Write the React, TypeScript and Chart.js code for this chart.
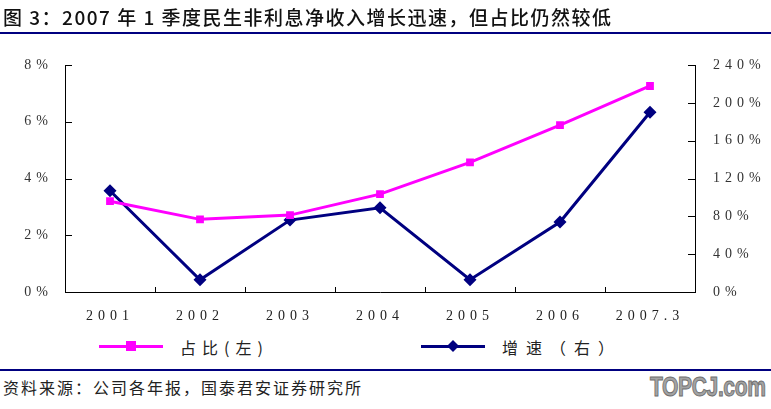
import React, { useEffect, useRef } from "react";
import { Chart, registerables } from "chart.js";
Chart.register(...registerables);

const categories = ["2001", "2002", "2003", "2004", "2005", "2006", "2007.3"];
const shareValues = [3.2, 2.56, 2.71, 3.45, 4.57, 5.88, 7.26];
const growthValues = [107, 13, 76, 89, 13, 74, 190];
const leftTicks = [0, 2, 4, 6, 8];
const rightTicks = [0, 40, 80, 120, 160, 200, 240];

const shareLabel = "占比(左)";
const growthLabel = "增速（右）";
const title = "图 3：2007 年 1 季度民生非利息净收入增长迅速，但占比仍然较低";
const source = "资料来源：公司各年报，国泰君安证券研究所";

const MAGENTA = "#FF00FF";
const NAVY = "#000080";
const SERIF = "'Liberation Serif', 'DejaVu Serif', serif";
const CJK = "'Noto Sans CJK SC', sans-serif";

const inwardTicks = {
  id: "inwardTicks",
  beforeDraw(chart: any) {
    chart.ctx.letterSpacing = "5px";
  },
  afterDraw(chart: any) {
    const ctx = chart.ctx;
    const { left, right, bottom } = chart.chartArea;
    ctx.save();
    ctx.letterSpacing = "0px";
    ctx.strokeStyle = "#000";
    ctx.lineWidth = 1;
    ctx.beginPath();
    const yl = chart.scales.y;
    yl.ticks.forEach((t: any) => {
      const y = Math.round(yl.getPixelForValue(t.value)) + 0.5;
      ctx.moveTo(left, y);
      ctx.lineTo(left + 7, y);
    });
    const yr = chart.scales.y1;
    yr.ticks.forEach((t: any) => {
      const y = Math.round(yr.getPixelForValue(t.value)) + 0.5;
      ctx.moveTo(right - 7, y);
      ctx.lineTo(right, y);
    });
    const xs = chart.scales.x;
    for (let i = 0; i < categories.length - 1; i++) {
      const x = Math.round((xs.getPixelForTick(i) + xs.getPixelForTick(i + 1)) / 2) + 0.5;
      ctx.moveTo(x, bottom);
      ctx.lineTo(x, bottom - 5);
    }
    ctx.stroke();
    ctx.restore();
    ctx.letterSpacing = "0px";
  },
};

export default function App() {
  const ref = useRef<HTMLCanvasElement>(null);
  useEffect(() => {
    if (!ref.current) return;
    const chart = new Chart(ref.current, {
      type: "line",
      data: {
        labels: categories,
        datasets: [
          {
            label: shareLabel,
            data: shareValues,
            yAxisID: "y",
            borderColor: MAGENTA,
            backgroundColor: MAGENTA,
            borderWidth: 3,
            pointStyle: "rect",
            pointRadius: 5.5,
            pointBorderWidth: 0,
            tension: 0,
          },
          {
            label: growthLabel,
            data: growthValues,
            yAxisID: "y1",
            borderColor: NAVY,
            backgroundColor: NAVY,
            borderWidth: 3,
            pointStyle: "rectRot",
            pointRadius: 6.5,
            pointBorderWidth: 0,
            tension: 0,
          },
        ],
      },
      options: {
        animation: false,
        responsive: false,
        layout: { padding: { top: 65, left: 0, right: 0, bottom: 0 } },
        plugins: { legend: { display: false }, tooltip: { enabled: false } },
        scales: {
          x: {
            offset: true,
            grid: { display: false, drawTicks: false },
            border: { display: true, color: "#000", width: 1 },
            ticks: {
              padding: 16,
              color: "#222",
              font: { family: SERIF, size: 14 },
              maxRotation: 0,
              autoSkip: false,
            },
            afterFit(s: any) {
              s.height = 38;
            },
          },
          y: {
            position: "left",
            min: 0,
            max: 8,
            afterBuildTicks(s: any) {
              s.ticks = leftTicks.map((v) => ({ value: v }));
            },
            grid: { display: false, drawTicks: false },
            border: { display: true, color: "#000", width: 1 },
            ticks: {
              padding: 12,
              color: "#333",
              font: { family: SERIF, size: 14 },
              callback: (v: any) => v + "%",
            },
            afterFit(s: any) {
              s.width = 65;
            },
          },
          y1: {
            position: "right",
            min: 0,
            max: 240,
            afterBuildTicks(s: any) {
              s.ticks = rightTicks.map((v) => ({ value: v }));
            },
            grid: { display: false, drawTicks: false },
            border: { display: true, color: "#000", width: 1 },
            ticks: {
              padding: 18,
              color: "#333",
              font: { family: SERIF, size: 14 },
              callback: (v: any) => v + "%",
            },
            afterFit(s: any) {
              s.width = 76;
            },
          },
        },
      },
      plugins: [inwardTicks],
    } as any);
    return () => chart.destroy();
  }, []);

  const legendLine = (color: string, left: number, marker: "square" | "diamond") => (
    <div style={{ position: "absolute", left, top: 345, width: 64, height: 3, background: color }}>
      <div
        style={{
          position: "absolute",
          left: 27,
          top: -4,
          width: 10,
          height: 10,
          background: color,
          transform: marker === "diamond" ? "rotate(45deg) scale(0.85)" : "none",
        }}
      />
    </div>
  );

  return (
    <div style={{ position: "absolute", left: 0, top: 0, width: 771, height: 409, background: "#fff", overflow: "hidden" }}>
      <canvas ref={ref} width={771} height={330} style={{ position: "absolute", left: 0, top: 0 }} />
      <div
        style={{
          position: "absolute",
          left: 3,
          top: 3,
          fontFamily: CJK,
          fontSize: 19,
          fontWeight: 500,
          letterSpacing: 1.5,
          color: "#111",
          whiteSpace: "nowrap",
        }}
      >
        {title}
      </div>
      <div style={{ position: "absolute", left: 0, top: 32, width: 771, height: 2, background: NAVY }} />
      {legendLine(MAGENTA, 99, "square")}
      <div style={{ position: "absolute", left: 180, top: 335, fontFamily: CJK, fontSize: 16, letterSpacing: 6, color: "#222", whiteSpace: "nowrap" }}>
        {shareLabel}
      </div>
      {legendLine(NAVY, 421, "diamond")}
      <div style={{ position: "absolute", left: 502, top: 335, fontFamily: CJK, fontSize: 16, letterSpacing: 8, color: "#222", whiteSpace: "nowrap" }}>
        {growthLabel}
      </div>
      <div style={{ position: "absolute", left: 0, top: 369, width: 771, height: 2, background: NAVY }} />
      <div style={{ position: "absolute", left: 3, top: 375, fontFamily: CJK, fontSize: 16, letterSpacing: 2, color: "#222", whiteSpace: "nowrap" }}>
        {source}
      </div>
      <div
        style={{
          position: "absolute",
          left: 650,
          top: 372,
          fontFamily: "'Liberation Sans', 'DejaVu Sans', sans-serif",
          fontSize: 27,
          fontWeight: 700,
          color: "#a3a3a3",
          letterSpacing: -0.5,
          transform: "scaleX(0.78)",
          transformOrigin: "left top",
          WebkitTextStroke: "1px #6e6e6e",
          whiteSpace: "nowrap",
        }}
      >
        TOPCJ.com
      </div>
    </div>
  );
}
